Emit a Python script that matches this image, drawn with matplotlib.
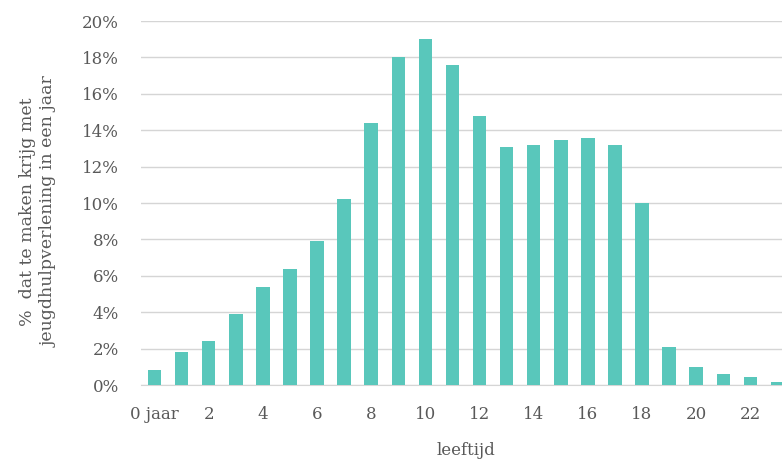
import matplotlib
matplotlib.use("Agg")
import matplotlib.pyplot as plt

# leeftijd 0..23, percentage jeugdhulp per jaar
ages = list(range(24))
pct = [0.8, 1.8, 2.4, 3.9, 5.4, 6.4, 7.9, 10.2, 14.4, 18.0, 19.0, 17.6,
       14.8, 13.1, 13.2, 13.45, 13.55, 13.2, 10.0, 2.1, 1.0, 0.6, 0.45, 0.15]
tick_pos = list(range(0, 23, 2))
tick_labels = ["0 jaar"] + [str(a) for a in range(2, 23, 2)]
y_ticks = list(range(0, 21, 2))

plt.rcParams['font.family'] = ['DejaVu Serif']
grey = '#595959'

fig = plt.figure(figsize=(7.82, 4.61), dpi=100)
ax = fig.add_axes([141/782, 1 - 385/461, (791 - 141)/782, (385 - 21)/461])

ax.bar(ages, pct, width=0.5, color='#59C7BB', zorder=3)

ax.set_xlim(-0.5, 23.5)
ax.set_ylim(0, 20)
ax.set_yticks(y_ticks)
ax.set_yticklabels([f"{v}%" for v in y_ticks], fontsize=12, color=grey)
ax.set_xticks(tick_pos)
ax.set_xticklabels(tick_labels, fontsize=12, color=grey)
ax.tick_params(axis='x', length=0, pad=15)
ax.tick_params(axis='y', length=0, pad=16)

ax.grid(axis='y', color='#d5d5d5', linewidth=1, zorder=0)
for s in ['top', 'right', 'left']:
    ax.spines[s].set_visible(False)
ax.spines['bottom'].set_color('#d5d5d5')

ax.set_xlabel("leeftijd", fontsize=12, color=grey, labelpad=14)
fig.text(0.049, 0.54, "%  dat te maken krijg met\njeugdhulpverlening in een jaar",
         rotation=90, ha='center', va='center', fontsize=12.5, color=grey,
         linespacing=1.3)

fig.savefig("out.png", dpi=100)
